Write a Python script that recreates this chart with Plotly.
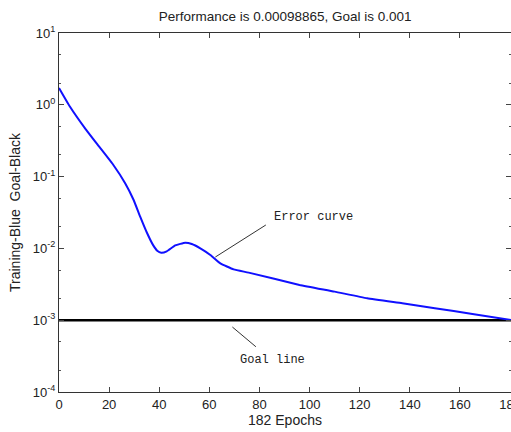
import plotly.graph_objects as go

epochs = [0, 4.4, 10.4, 15.7, 21.7, 26.4, 29.7, 32.4, 35.1, 37.5, 39.2, 40.8, 43, 46.4, 50.4, 53, 56.4, 60.4, 64.4, 69.7, 75.7, 96, 110, 123, 137, 150, 165, 182]
perf = [1.72, 0.94, 0.47, 0.27, 0.145, 0.081, 0.048, 0.0277, 0.0165, 0.0112, 0.0093, 0.0087, 0.0091, 0.011, 0.012, 0.0115, 0.0100, 0.0081, 0.0062, 0.0051, 0.0046, 0.0031, 0.0025, 0.00202, 0.00172, 0.00147, 0.00122, 0.00098865]
goal_x = [0, 182]
goal_y = [0.001, 0.001]
y_ticks = [1e-4, 1e-3, 1e-2, 1e-1, 1, 10]
y_labels = ["10<sup>-4</sup>", "10<sup>-3</sup>", "10<sup>-2</sup>", "10<sup>-1</sup>", "10<sup>0</sup>", "10<sup>1</sup>"]

fig = go.Figure()
fig.add_trace(go.Scatter(x=goal_x, y=goal_y, mode="lines", line=dict(color="black", width=2.5)))
fig.add_trace(go.Scatter(x=epochs, y=perf, mode="lines", line=dict(color="#1010ff", width=2, shape="spline", smoothing=0.4)))

axis_font = dict(family="Liberation Sans, Arial", size=12, color="#222")
tick_font = dict(family="Liberation Sans, Arial", size=13, color="#222")
mono = dict(family="Liberation Mono, Courier New", size=12, color="#222")

fig.update_layout(
    width=511, height=432,
    margin=dict(l=59, r=0, t=33, b=40),
    paper_bgcolor="white", plot_bgcolor="white",
    showlegend=False,
    title=dict(text="Performance is 0.00098865, Goal is 0.001", x=0.558, xanchor="center",
               y=0.963, yanchor="middle", font=dict(family="Liberation Sans, Arial", size=13.5, color="#222")),
    font=axis_font,
    xaxis=dict(range=[0, 180.4], tickvals=list(range(0, 181, 20)), ticks="inside", ticklen=5,
               showline=True, linecolor="#333", linewidth=1, mirror="ticks", showgrid=False,
               zeroline=False, automargin=False, title=dict(text="182 Epochs", standoff=0),
               tickfont=tick_font, ticklabeloverflow="allow"),
    yaxis=dict(type="log", range=[-4, 1], tickvals=y_ticks, ticktext=y_labels, ticks="inside", ticklen=5,
               showline=True, linecolor="#333", linewidth=1, mirror="ticks", showgrid=False,
               zeroline=False, automargin=False, minor=dict(ticks="inside", ticklen=2, tickcolor="#555"),
               title=dict(text="Training-Blue  Goal-Black", standoff=8), tickfont=tick_font),
)

# pointer lines and labels
fig.add_annotation(x=62.4, y=-2.12, ax=52, ay=-33, text="", showarrow=True, arrowhead=0,
                   arrowwidth=1, arrowcolor="#333")
fig.add_annotation(x=85.2, y=-1.563, text="Error curve", showarrow=False, xanchor="left",
                   yanchor="middle", font=mono)
fig.add_annotation(x=69.2, y=-3.095, ax=25, ay=21, text="", showarrow=True, arrowhead=0,
                   arrowwidth=1, arrowcolor="#333")
fig.add_annotation(x=71.6, y=-3.554, text="Goal line", showarrow=False, xanchor="left",
                   yanchor="middle", font=mono)

fig.write_html("out.html", config={"displayModeBar": False},
               post_script="document.body.style.margin='0';")
